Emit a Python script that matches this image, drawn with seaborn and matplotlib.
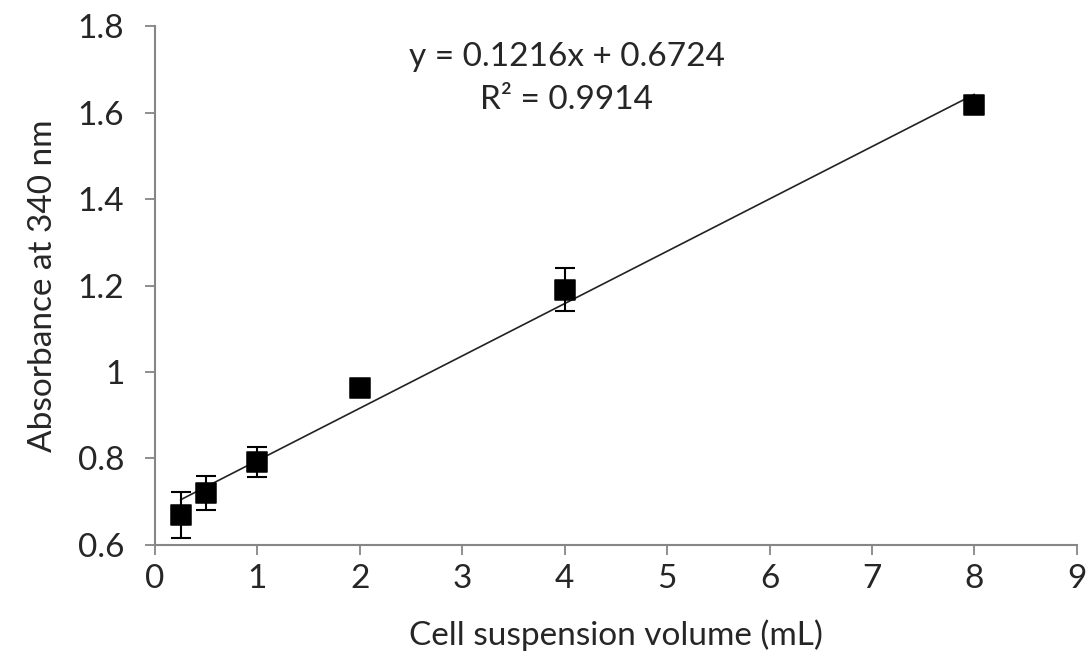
import numpy as np
import pandas as pd
import matplotlib
matplotlib.use("Agg")
import matplotlib.pyplot as plt
import seaborn as sns

# Data
volume_ml = [0.25, 0.5, 1, 2, 4, 8]
absorbance = [0.669, 0.720, 0.792, 0.963, 1.190, 1.617]
abs_err = [0.053, 0.040, 0.034, 0.010, 0.050, 0.010]
y_ticks = [0.6, 0.8, 1.0, 1.2, 1.4, 1.6, 1.8]
y_tick_labels = ["0.6", "0.8", "1", "1.2", "1.4", "1.6", "1.8"]
x_ticks = [0, 1, 2, 3, 4, 5, 6, 7, 8, 9]
eq_text = "y = 0.1216x + 0.6724"
r2_text = "R² = 0.9914"

df = pd.DataFrame({"volume": volume_ml, "absorbance": absorbance, "err": abs_err})

sns.set_style("ticks")
plt.rcParams["font.family"] = ["Lato", "DejaVu Sans"]

fig = plt.figure(figsize=(10.91, 6.59), dpi=100)
ax = fig.add_axes([0.142, 0.173, 0.845, 0.7875])

# trendline
sns.regplot(data=df, x="volume", y="absorbance", ci=None, scatter=False, ax=ax,
            line_kws={"color": "#222222", "lw": 1.2}, truncate=True)

ax.errorbar(df["volume"], df["absorbance"], yerr=df["err"], fmt="none",
            ecolor="black", elinewidth=1.5, capsize=7, capthick=1.5, zorder=3)
sns.scatterplot(data=df, x="volume", y="absorbance", marker="s", s=190,
                color="black", edgecolor="black", ax=ax, zorder=4)

ax.set_xlim(0, 9)
ax.set_ylim(0.6, 1.8)
ax.set_xticks(x_ticks)
ax.set_yticks(y_ticks)
ax.set_yticklabels(y_tick_labels)
ax.tick_params(axis="both", labelsize=24, length=7, width=1.3, color="#868686",
               direction="out")
ax.tick_params(axis="y", pad=15)
ax.tick_params(axis="x", pad=7)
for side in ["left", "bottom"]:
    ax.spines[side].set_color("#868686")
    ax.spines[side].set_linewidth(1.5)
sns.despine(ax=ax)

ax.set_xlabel("Cell suspension volume (mL)", fontsize=24, labelpad=18)
ax.set_ylabel("Absorbance at 340 nm", fontsize=24, labelpad=14)

ax.text(4.02, 1.728, eq_text, ha="center", va="center", fontsize=24)
ax.text(4.02, 1.629, r2_text, ha="center", va="center", fontsize=24)

fig.savefig("out.png", dpi=100)
